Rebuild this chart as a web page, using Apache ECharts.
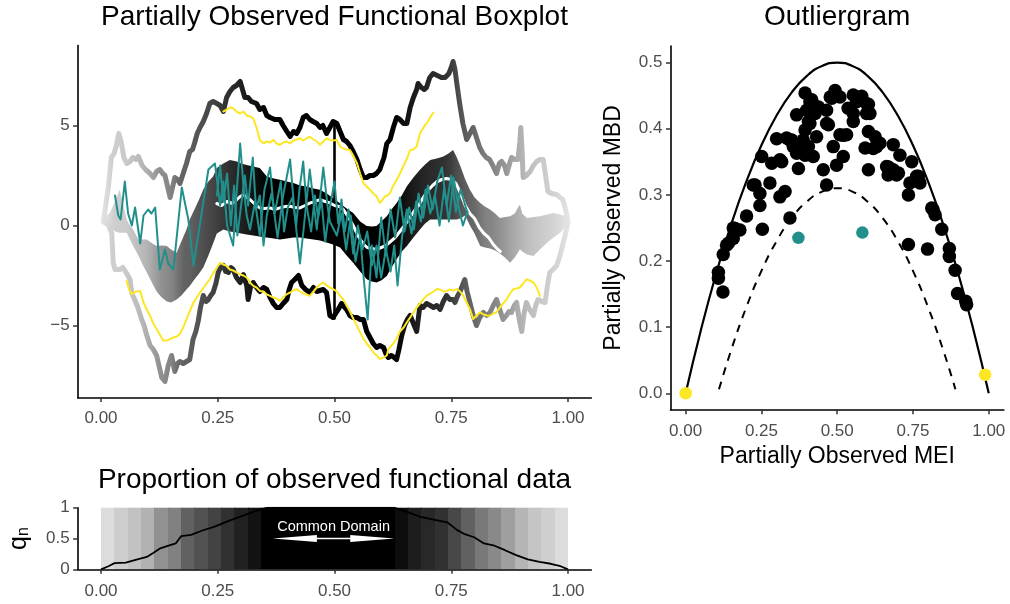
<!DOCTYPE html>
<html>
<head>
<meta charset="utf-8">
<title>Partially Observed Functional Boxplot</title>
<script src="https://cdn.jsdelivr.net/npm/echarts@6/dist/echarts.min.js"></script>
<style>
  html, body { margin: 0; padding: 0; background: #fff; }
  #chart { width: 1010px; height: 604px; }
</style>
</head>
<body>
<div id="chart"></div>
<script>
// ---------- tick values / labels ----------
const xTickValues = [0, 0.25, 0.5, 0.75, 1];
const xTickLabels = ['0.00', '0.25', '0.50', '0.75', '1.00'];
const boxYTicks = [-5, 0, 5];
const boxYLabels = ['\u22125', '0', '5'];
const propYTicks = [0, 0.5, 1];
const propYLabels = ['0', '0.5', '1'];
const outYTicks = [0, 0.1, 0.2, 0.3, 0.4, 0.5];
const outYLabels = ['0.0', '0.1', '0.2', '0.3', '0.4', '0.5'];

// ---------- proportion of observed curves q_n(t) ----------
const qnX = [0, 0.016, 0.029, 0.053, 0.078, 0.098, 0.111, 0.127, 0.143, 0.16, 0.172, 0.193, 0.217, 0.242, 0.275, 0.307, 0.34, 0.357,
             0.627, 0.652, 0.684, 0.717, 0.742, 0.762, 0.779, 0.799, 0.82, 0.84, 0.865, 0.889, 0.914, 0.939, 0.963, 0.984, 1.0];
const qnY = [0, 0.05, 0.10, 0.11, 0.16, 0.20, 0.26, 0.34, 0.38, 0.42, 0.54, 0.56, 0.63, 0.69, 0.79, 0.88, 0.97, 1.0,
             1.0, 0.94, 0.85, 0.80, 0.76, 0.64, 0.57, 0.52, 0.42, 0.39, 0.31, 0.23, 0.16, 0.12, 0.09, 0.05, 0];
const commonDomain = [0.368, 0.628];
const commonDomainText = 'Common Domain';

// ---------- functional boxplot: central 50% region ----------
const bandX = [0.005,0.012,0.019,0.03,0.04,0.048,0.055,0.062,0.069,0.08,0.09,0.098,0.11,0.119,0.13,0.141,0.15,0.162,0.172,0.183,
  0.19,0.2,0.21,0.219,0.23,0.24,0.248,0.262,0.276,0.291,0.30,0.312,0.326,0.34,0.355,0.37,0.383,0.398,0.412,0.426,
  0.44,0.455,0.469,0.483,0.497,0.512,0.526,0.54,0.555,0.569,0.58,0.59,0.60,0.612,0.622,0.633,0.644,0.655,0.669,0.683,
  0.694,0.705,0.719,0.733,0.744,0.754,0.762,0.769,0.78,0.79,0.80,0.812,0.822,0.833,0.844,0.854,0.865,0.876,0.886,0.893,
  0.897,0.902,0.912,0.926,0.94,0.955,0.969,0.983,0.997];
const bandHi = [0.2,0.5,0.64,1.2,1.8,1.0,0.3,0.0,-0.2,-0.7,-0.7,-0.7,-0.9,-1.03,-1.0,-1.03,-1.2,-1.36,-0.8,-0.2,
  0.3,0.8,1.3,1.8,2.2,2.45,2.87,3.1,3.28,3.2,3.1,3.03,2.95,2.87,2.45,2.35,2.29,2.2,2.12,2.0,
  1.95,1.85,1.79,1.6,1.38,1.1,0.85,0.63,0.2,-0.03,-0.05,-0.03,0.2,0.46,0.8,1.13,1.5,1.96,2.4,2.79,
  3.05,3.28,3.35,3.45,3.6,3.78,3.4,3.0,2.3,1.79,1.4,1.13,0.95,0.8,0.6,0.38,0.42,0.46,0.6,0.9,
  1.04,0.6,0.38,0.42,0.46,0.55,0.63,0.55,0.46];
const bandLo = [0.2,0.0,-0.1,-0.3,-0.36,-0.36,-0.36,-0.7,-1.03,-1.5,-2.0,-2.35,-2.9,-3.3,-3.6,-3.8,-3.85,-3.7,-3.5,-3.2,
  -3.02,-2.7,-2.4,-2.1,-1.5,-0.9,-0.4,-0.2,-0.3,-0.35,-0.4,-0.45,-0.5,-0.55,-0.6,-0.65,-0.7,-0.65,-0.6,-0.6,
  -0.65,-0.7,-0.75,-0.85,-0.95,-1.1,-1.5,-1.86,-2.3,-2.69,-2.8,-2.85,-2.75,-2.52,-2.1,-1.69,-1.3,-1.03,-0.6,-0.2,
  0.1,0.3,0.3,0.3,0.3,0.3,0.3,0.35,0.5,0.0,-0.4,-1.03,-1.1,-1.15,-1.25,-1.4,-1.6,-1.86,-1.6,-1.35,
  -1.19,-1.3,-1.45,-1.53,-1.2,-0.86,-0.6,-0.36,-0.03];

// ---------- fences ----------
const fenceUpper = [[0.005,0.2],[0.016,2.0],[0.022,3.4],[0.028,3.6],[0.033,4.0],[0.038,4.6],[0.043,4.2],[0.049,3.4],[0.055,3.1],[0.062,3.2],
  [0.068,3.4],[0.075,3.3],[0.08,3.45],[0.088,3.0],[0.095,2.8],[0.105,2.6],[0.112,2.4],[0.119,2.7],[0.126,2.8],[0.132,2.6],
  [0.137,2.5],[0.142,2.0],[0.148,1.4],[0.153,1.9],[0.158,2.4],[0.164,2.3],[0.169,2.1],[0.176,2.6],[0.183,3.1],[0.19,3.7],
  [0.196,3.8],[0.2,4.1],[0.206,4.6],[0.212,4.9],[0.219,5.2],[0.226,5.6],[0.233,6.1],[0.24,6.2],[0.248,6.1],[0.255,6.0],
  [0.262,5.7],[0.269,6.4],[0.276,6.7],[0.283,6.9],[0.29,7.0],[0.298,7.2],[0.303,6.8],[0.308,6.4],[0.315,6.4],[0.322,6.2],
  [0.333,6.1],[0.34,5.8],[0.348,5.9],[0.355,5.5],[0.362,5.4],[0.372,5.3],[0.383,5.3],[0.39,5.0],[0.398,4.7],[0.405,4.45],
  [0.412,4.7],[0.419,4.6],[0.426,4.9],[0.433,5.4],[0.44,5.5],[0.447,5.3],[0.454,5.2],[0.462,5.1],[0.469,4.9],[0.475,5.0],
  [0.483,4.6],[0.49,4.9],[0.497,5.2],[0.505,5.1],[0.512,4.7],[0.519,4.3],[0.526,4.2],[0.533,4.0],[0.54,3.7],[0.548,3.3],
  [0.555,2.8],[0.562,2.4],[0.569,2.4],[0.576,2.5],[0.583,2.5],[0.59,2.6],[0.597,2.8],[0.601,2.7],[0.606,3.4],[0.612,4.1],
  [0.619,4.3],[0.626,4.9],[0.633,5.4],[0.64,5.3],[0.648,5.1],[0.655,5.1],[0.662,5.9],[0.669,6.4],[0.676,6.8],[0.679,7.1],
  [0.686,6.9],[0.692,6.8],[0.697,6.9],[0.704,7.4],[0.711,7.6],[0.72,7.5],[0.729,7.4],[0.737,7.4],[0.745,7.6],[0.75,7.9],
  [0.754,8.2],[0.758,7.8],[0.762,7.1],[0.768,6.1],[0.775,5.1],[0.783,4.3],[0.79,4.6],[0.797,4.9],[0.804,4.4],[0.811,3.9],
  [0.818,3.6],[0.825,3.4],[0.832,3.3],[0.839,3.0],[0.847,2.6],[0.853,3.1],[0.858,3.2],[0.864,3.0],[0.869,2.6],[0.875,3.1],
  [0.879,3.4],[0.886,3.3],[0.893,3.3],[0.897,4.2],[0.899,4.9],[0.902,3.6],[0.904,2.4],[0.911,2.5],[0.919,2.7],[0.926,3.0],
  [0.933,3.2],[0.94,3.3],[0.947,3.3],[0.952,2.5],[0.957,1.7],[0.965,1.6],[0.976,1.55],[0.983,1.4],[0.989,1.3],[0.994,0.9],
  [0.997,0.6],[1.0,0.2]];
const fenceLower = [[0.005,0.2],[0.016,0.0],[0.023,-0.4],[0.026,-1.85],[0.03,-2.2],[0.034,-2.3],[0.04,-2.2],[0.047,-2.1],[0.055,-2.4],[0.062,-2.7],
  [0.066,-3.4],[0.072,-3.7],[0.079,-4.1],[0.087,-4.7],[0.092,-5.0],[0.098,-5.5],[0.105,-6.0],[0.112,-6.2],[0.119,-6.5],[0.125,-7.1],
  [0.13,-7.6],[0.137,-7.8],[0.144,-7.0],[0.151,-6.5],[0.158,-7.3],[0.164,-6.9],[0.169,-6.8],[0.176,-6.9],[0.183,-6.8],[0.19,-6.7],
  [0.194,-6.6],[0.197,-5.7],[0.203,-5.3],[0.208,-4.8],[0.213,-4.1],[0.219,-3.5],[0.225,-3.8],[0.23,-3.7],[0.235,-3.5],[0.24,-3.35],
  [0.246,-2.9],[0.251,-2.35],[0.256,-2.1],[0.262,-2.0],[0.267,-2.3],[0.273,-2.35],[0.278,-2.1],[0.283,-2.2],[0.29,-2.6],[0.298,-2.85],
  [0.305,-2.45],[0.312,-3.0],[0.315,-3.7],[0.32,-3.1],[0.326,-2.85],[0.333,-3.1],[0.34,-3.3],[0.348,-3.1],[0.355,-3.2],[0.362,-3.6],
  [0.369,-3.9],[0.376,-4.1],[0.383,-4.1],[0.39,-3.9],[0.398,-3.7],[0.403,-3.2],[0.408,-2.85],[0.415,-2.7],[0.423,-2.5],[0.43,-3.0],
  [0.438,-3.2],[0.447,-3.35],[0.455,-3.1],[0.462,-3.3],[0.469,-3.25],[0.476,-3.2],[0.483,-3.35],[0.487,-4.0],[0.49,-4.5],[0.497,-4.6],
  [0.501,-4.6],[0.508,-4.2],[0.515,-3.9],[0.519,-3.85],[0.526,-4.2],[0.533,-4.5],[0.54,-4.6],[0.548,-4.6],[0.555,-4.7],[0.562,-4.7],
  [0.569,-5.3],[0.576,-5.6],[0.583,-5.9],[0.59,-6.1],[0.597,-6.0],[0.605,-6.1],[0.61,-6.4],[0.615,-6.6],[0.622,-6.5],[0.628,-6.6],
  [0.633,-6.7],[0.638,-6.2],[0.644,-5.5],[0.65,-5.0],[0.656,-4.7],[0.662,-4.5],[0.669,-4.9],[0.676,-5.3],[0.683,-4.0],[0.69,-4.1],
  [0.697,-3.9],[0.705,-4.0],[0.712,-4.1],[0.719,-4.0],[0.726,-4.2],[0.733,-3.8],[0.74,-3.5],[0.747,-3.7],[0.754,-3.7],[0.758,-3.85],
  [0.764,-3.5],[0.769,-3.3],[0.774,-3.0],[0.779,-2.7],[0.784,-3.3],[0.79,-3.85],[0.797,-4.5],[0.804,-5.0],[0.811,-4.6],[0.819,-4.35],
  [0.826,-4.5],[0.833,-4.35],[0.84,-4.0],[0.847,-3.7],[0.854,-4.2],[0.861,-4.7],[0.868,-4.5],[0.874,-4.3],[0.879,-4.35],[0.885,-4.0],
  [0.89,-3.85],[0.895,-4.6],[0.901,-5.3],[0.906,-4.4],[0.911,-3.85],[0.918,-4.2],[0.926,-4.5],[0.931,-4.0],[0.936,-3.7],[0.944,-3.8],
  [0.951,-3.85],[0.956,-3.0],[0.961,-2.35],[0.968,-2.2],[0.976,-2.0],[0.983,-1.5],[0.99,-0.86],[0.994,-0.5],[0.997,-0.2],[1.0,0.2]];
const centreSegment = [[0.5, 5.15], [0.5, -4.65]];

// ---------- median curve ----------
const medianCurve = [[0.248,1.1],[0.258,1.0],[0.27,1.2],[0.28,1.1],[0.291,1.3],[0.298,1.45],[0.305,1.54],[0.312,1.4],[0.319,1.3],[0.33,1.05],
  [0.34,0.88],[0.35,0.85],[0.362,0.88],[0.372,0.8],[0.383,0.88],[0.395,0.95],[0.405,0.96],[0.415,0.9],[0.426,0.88],[0.437,1.0],
  [0.448,1.13],[0.458,1.2],[0.469,1.29],[0.48,1.2],[0.49,1.13],[0.50,1.0],[0.51,0.95],[0.519,0.8],[0.53,0.4],[0.54,0.0],
  [0.548,-0.4],[0.555,-0.7],[0.563,-0.95],[0.57,-1.1],[0.58,-1.15],[0.59,-1.2],[0.60,-1.1],[0.61,-1.0],[0.62,-0.8],[0.63,-0.6],
  [0.64,-0.3],[0.65,0.0],[0.66,0.35],[0.67,0.7],[0.68,1.0],[0.69,1.4],[0.70,1.75],[0.71,2.0],[0.72,2.2],[0.73,2.3],
  [0.74,2.35],[0.75,2.3],[0.76,2.1],[0.77,1.6],[0.78,1.0],[0.79,0.6],[0.80,0.35],[0.81,-0.1],[0.82,-0.4],[0.83,-0.6],
  [0.84,-0.95],[0.85,-1.2],[0.855,-1.3]];

// ---------- magnitude outliers (yellow) ----------
const outlierUpper = [[0.262,5.7],[0.27,5.8],[0.276,5.9],[0.283,5.86],[0.29,5.7],[0.298,5.6],[0.305,5.7],[0.312,5.5],[0.319,5.45],[0.326,5.36],
  [0.333,4.9],[0.34,4.28],[0.348,4.11],[0.355,4.2],[0.362,4.15],[0.369,4.28],[0.376,4.1],[0.383,4.03],[0.39,4.15],[0.398,4.2],
  [0.405,4.1],[0.412,4.25],[0.419,4.3],[0.426,4.36],[0.433,4.25],[0.44,4.35],[0.447,4.44],[0.455,4.3],[0.462,4.2],[0.469,4.03],
  [0.476,4.2],[0.483,4.36],[0.49,4.28],[0.497,4.25],[0.505,4.28],[0.512,3.95],[0.519,3.85],[0.526,3.8],[0.533,3.78],[0.54,3.5],
  [0.548,3.12],[0.555,2.6],[0.562,2.12],[0.569,1.95],[0.576,1.79],[0.583,1.6],[0.59,1.46],[0.597,1.13],[0.602,1.25],[0.608,1.46],
  [0.613,1.5],[0.619,1.63],[0.626,2.0],[0.633,2.29],[0.638,2.5],[0.644,2.79],[0.65,3.1],[0.656,3.4],[0.662,3.78],[0.669,3.8],
  [0.676,3.95],[0.683,4.61],[0.688,4.8],[0.694,5.02],[0.70,5.2],[0.708,5.52],[0.712,5.65]];
const outlierLower = [[0.055,-2.77],[0.06,-3.2],[0.066,-3.43],[0.075,-3.3],[0.084,-3.27],[0.091,-3.85],[0.098,-4.2],[0.105,-4.51],[0.112,-4.9],[0.119,-5.17],
  [0.127,-5.5],[0.133,-5.75],[0.137,-5.84],[0.142,-5.75],[0.148,-5.67],[0.155,-5.6],[0.162,-5.55],[0.169,-5.42],[0.176,-5.1],[0.183,-4.68],
  [0.19,-4.3],[0.198,-3.85],[0.205,-3.6],[0.212,-3.35],[0.22,-3.1],[0.226,-2.9],[0.233,-2.69],[0.24,-2.4],[0.248,-2.1],[0.255,-1.86],
  [0.262,-1.95],[0.269,-2.02],[0.276,-2.2],[0.283,-2.25],[0.291,-2.35],[0.298,-2.45],[0.305,-2.5],[0.312,-2.6],[0.319,-2.85],[0.326,-3.02],
  [0.333,-3.1],[0.34,-3.27],[0.348,-3.3],[0.355,-3.45],[0.362,-3.52],[0.369,-3.6],[0.376,-3.65],[0.383,-3.77],[0.39,-3.6],[0.398,-3.43],
  [0.405,-3.35],[0.412,-3.25],[0.419,-3.18],[0.426,-3.3],[0.433,-3.4],[0.44,-3.45],[0.447,-3.52],[0.455,-3.3],[0.462,-3.1],[0.469,-2.95],
  [0.476,-2.85],[0.483,-3.0],[0.49,-3.1],[0.497,-3.18],[0.505,-3.3],[0.512,-3.52],[0.519,-3.7],[0.526,-4.01],[0.533,-4.3],[0.54,-4.65],
  [0.548,-5.01],[0.555,-5.35],[0.562,-5.67],[0.569,-5.9],[0.576,-6.1],[0.583,-6.34],[0.59,-6.5],[0.597,-6.67],[0.605,-6.6],[0.612,-6.5],
  [0.615,-6.2],[0.619,-6.08],[0.626,-5.9],[0.633,-5.67],[0.64,-5.3],[0.648,-5.1],[0.655,-4.84],[0.662,-4.6],[0.669,-4.35],[0.676,-4.1],
  [0.683,-3.9],[0.69,-3.7],[0.697,-3.52],[0.705,-3.4],[0.712,-3.3],[0.719,-3.18],[0.726,-3.2],[0.733,-3.3],[0.74,-3.27],[0.747,-3.2],
  [0.754,-3.25],[0.762,-3.18],[0.769,-3.3],[0.776,-3.52],[0.783,-3.85],[0.79,-4.18],[0.797,-4.68],[0.804,-4.5],[0.812,-4.34],[0.819,-4.45],
  [0.826,-4.5],[0.833,-4.51],[0.84,-4.4],[0.847,-4.34],[0.854,-4.1],[0.861,-3.9],[0.869,-3.68],[0.876,-3.4],[0.883,-3.18],[0.89,-3.15],
  [0.897,-3.1],[0.904,-2.9],[0.911,-2.69],[0.918,-2.75],[0.926,-2.85],[0.933,-3.1],[0.94,-3.52]];

// ---------- shape outliers (teal) ----------
const shapeOutlierA = [[0.030,1.5],[0.037,0.5],[0.042,0.3],[0.051,2.2],[0.058,0.6],[0.066,0.0],[0.073,0.9],[0.084,-0.9],[0.091,0.5],[0.101,0.8],
  [0.108,0.6],[0.116,0.9],[0.126,-2.2],[0.137,-1.2],[0.144,-1.9],[0.155,-2.2],[0.173,1.9],[0.187,0.3],[0.198,-2.0],[0.212,0.1],
  [0.23,2.8],[0.244,3.1],[0.255,1.0],[0.262,2.2],[0.270,0.0],[0.283,-1.0],[0.29,1.5],[0.298,4.1],[0.305,2.0],[0.312,0.5],
  [0.319,-0.2],[0.33,1.2],[0.34,-0.5],[0.35,1.8],[0.362,2.9],[0.37,0.8],[0.378,-0.6],[0.39,1.5],[0.405,3.3],[0.415,0.5],
  [0.426,-1.9],[0.436,0.3],[0.447,2.8],[0.455,1.2],[0.462,-0.2],[0.476,2.9],[0.485,1.0],[0.49,0.2],[0.505,-0.5],[0.515,0.6],
  [0.525,-1.2],[0.535,0.5],[0.545,-1.8],[0.555,-0.5],[0.562,-2.5],[0.571,-4.7],[0.58,-1.0],[0.59,-2.6],[0.60,0.4],[0.61,-1.5],
  [0.62,0.8],[0.63,-0.6],[0.64,1.4],[0.65,-0.3],[0.66,0.9],[0.67,-0.2],[0.68,1.6],[0.69,0.4],[0.70,2.0],[0.71,0.8],
  [0.72,2.2],[0.73,2.9],[0.74,1.0],[0.75,2.5],[0.76,0.7],[0.77,1.8],[0.785,0.6]];
const shapeOutlierB = [[0.248,1.5],[0.255,3.0],[0.262,1.2],[0.27,2.6],[0.278,0.0],[0.285,2.0],[0.292,-0.5],[0.3,1.0],[0.308,2.5],[0.315,1.0],
  [0.325,3.4],[0.332,0.8],[0.34,1.5],[0.348,-1.0],[0.355,0.5],[0.365,1.6],[0.372,0.6],[0.385,2.2],[0.392,-0.3],[0.40,0.9],
  [0.41,1.4],[0.418,0.0],[0.425,1.8],[0.433,3.2],[0.44,1.0],[0.45,-0.3],[0.458,1.5],[0.465,0.4],[0.472,1.3],[0.48,-0.8],
  [0.49,0.9],[0.50,2.2],[0.508,0.1],[0.515,1.3],[0.522,-0.3],[0.53,0.8],[0.54,-1.4],[0.55,0.0],[0.56,-1.2],[0.57,-0.3],
  [0.58,-2.0],[0.59,-1.0],[0.60,-2.6],[0.61,-1.2],[0.62,-2.3],[0.628,-1.0],[0.635,-3.0],[0.645,-0.5],[0.655,0.8],[0.665,-0.4],
  [0.675,1.2],[0.685,0.2],[0.695,1.8],[0.705,0.6],[0.715,1.5],[0.725,0.0],[0.735,1.9],[0.745,0.2],[0.755,2.4],[0.765,1.0],
  [0.775,0.0],[0.785,0.7]];

// ---------- outliergram ----------
const boundMEI = [0,0.05,0.1,0.15,0.2,0.25,0.3,0.35,0.4,0.45,0.5,0.55,0.6,0.65,0.7,0.75,0.8,0.85,0.9,0.95,1.0];
const boundMBD = [0,0.095,0.18,0.255,0.32,0.375,0.42,0.455,0.48,0.495,0.5,0.495,0.48,0.455,0.42,0.375,0.32,0.255,0.18,0.095,0];
const thresholdMEI = [0.11,0.15,0.2,0.25,0.3,0.35,0.4,0.45,0.5,0.55,0.6,0.65,0.7,0.75,0.8,0.85,0.89];
const thresholdMBD = [0.006,0.065,0.13,0.185,0.23,0.265,0.29,0.305,0.31,0.305,0.29,0.265,0.23,0.185,0.13,0.065,0.006];
const curvePoints = [[0.394,0.454],[0.493,0.458],[0.477,0.448],[0.509,0.448],[0.41,0.441],[0.482,0.446],[0.553,0.451],[0.581,0.449],[0.564,0.441],[0.597,0.438],
  [0.603,0.437],[0.416,0.444],[0.432,0.431],[0.465,0.428],[0.438,0.433],[0.366,0.421],[0.399,0.428],[0.427,0.423],[0.536,0.431],[0.553,0.423],
  [0.608,0.423],[0.597,0.423],[0.405,0.411],[0.465,0.408],[0.553,0.411],[0.41,0.408],[0.471,0.406],[0.394,0.398],[0.432,0.388],[0.52,0.39],
  [0.509,0.391],[0.531,0.391],[0.603,0.396],[0.625,0.388],[0.30,0.385],[0.333,0.386],[0.344,0.383],[0.35,0.383],[0.388,0.383],[0.377,0.376],
  [0.405,0.373],[0.487,0.373],[0.592,0.371],[0.63,0.373],[0.641,0.378],[0.685,0.376],[0.619,0.370],[0.355,0.373],[0.251,0.358],[0.311,0.353],
  [0.284,0.348],[0.317,0.350],[0.366,0.363],[0.394,0.360],[0.421,0.358],[0.52,0.358],[0.707,0.360],[0.372,0.340],[0.454,0.338],[0.498,0.345],
  [0.603,0.338],[0.669,0.342],[0.663,0.343],[0.685,0.338],[0.746,0.350],[0.702,0.333],[0.696,0.330],[0.668,0.330],[0.768,0.328],[0.762,0.328],
  [0.74,0.318],[0.773,0.318],[0.223,0.315],[0.229,0.315],[0.278,0.318],[0.465,0.315],[0.245,0.302],[0.328,0.305],[0.311,0.297],[0.735,0.300],
  [0.245,0.284],[0.812,0.280],[0.817,0.277],[0.823,0.270],[0.201,0.268],[0.344,0.265],[0.163,0.249],[0.179,0.247],[0.157,0.25],[0.253,0.248],
  [0.845,0.248],[0.157,0.234],[0.141,0.227],[0.135,0.224],[0.735,0.225],[0.798,0.218],[0.870,0.219],[0.124,0.21],[0.870,0.207],[0.108,0.183],
  [0.108,0.174],[0.889,0.186],[0.123,0.153],[0.897,0.151],[0.924,0.139],[0.927,0.134]];
const shapeOutlierPoints = [[0.372,0.235],[0.583,0.243]];
const magnitudeOutlierPoints = [[0.0,0.0],[0.988,0.028]];

// ---------- styling ----------
const FONT = '"Liberation Sans", Arial, Helvetica, sans-serif';
const TEAL = '#21908C';
const YELLOW = '#FDE725';

function qnAt(x) {
  if (x <= qnX[0]) return qnY[0];
  for (let i = 1; i < qnX.length; i++) {
    if (x <= qnX[i]) {
      const t = (x - qnX[i - 1]) / (qnX[i] - qnX[i - 1]);
      return qnY[i - 1] + t * (qnY[i] - qnY[i - 1]);
    }
  }
  return qnY[qnY.length - 1];
}
// grey ramp (light grey -> black) interpolated in lightness
function greyFor(q) {
  const L = 92 * (1 - Math.max(0, Math.min(1, q)));
  const fy = (L + 16) / 116;
  const Y = L > 8 ? fy * fy * fy : L / 903.3;
  const c = Y <= 0.0031308 ? 12.92 * Y : 1.055 * Math.pow(Y, 1 / 2.4) - 0.055;
  const v = Math.round(255 * Math.max(0, Math.min(1, c)));
  return 'rgb(' + v + ',' + v + ',' + v + ')';
}
// horizontal gradient following q_n over the x-extent of a curve
function greyGradient(xs) {
  const x0 = Math.min.apply(null, xs), x1 = Math.max.apply(null, xs);
  const stops = [];
  const n = 80;
  for (let i = 0; i <= n; i++) {
    const x = x0 + (x1 - x0) * i / n;
    stops.push({ offset: i / n, color: greyFor(qnAt(x)) });
  }
  return { type: 'linear', x: 0, y: 0, x2: 1, y2: 0, colorStops: stops };
}

// strip of grey cells underneath q_n
const stripCount = 35;
const stripCells = [];
for (let i = 0; i < stripCount; i++) {
  const a = i / stripCount, b = (i + 1) / stripCount;
  stripCells.push([a, b, qnAt((a + b) / 2)]);
}

function labelFor(ticks, labels) {
  return function (v) {
    let k = 0;
    for (let i = 0; i < ticks.length; i++) if (Math.abs(ticks[i] - v) < Math.abs(ticks[k] - v)) k = i;
    return labels[k];
  };
}
function valueAxis(gridIndex, min, max, ticks, labels, extra) {
  const ax = {
    type: 'value', gridIndex: gridIndex, min: min, max: max, z: 5,
    splitLine: { show: false },
    axisLine: { show: true, onZero: false, lineStyle: { color: '#000', width: 1.6 } },
    axisTick: { show: true, length: 4.5, lineStyle: { color: '#333', width: 1.5 }, customValues: ticks },
    axisLabel: { show: true, color: '#4d4d4d', fontSize: 17, fontFamily: FONT, margin: 8,
                 customValues: ticks, formatter: labelFor(ticks, labels) }
  };
  if (extra) {
    for (const k in extra) {
      if (ax[k] && typeof ax[k] === 'object' && !Array.isArray(extra[k])) ax[k] = Object.assign({}, ax[k], extra[k]);
      else ax[k] = extra[k];
    }
  }
  return ax;
}
function curve(data, color, width, z) {
  return {
    type: 'line', xAxisIndex: 0, yAxisIndex: 0, data: data, symbol: 'none', silent: true, z: z || 2,
    lineStyle: { color: color, width: width, join: 'round', cap: 'round' }
  };
}

const chart = echarts.init(document.getElementById('chart'), null, { renderer: 'canvas' });

const gridBase = { containLabel: false, outerBoundsMode: 'none' };
const option = {
  animation: false,
  backgroundColor: '#ffffff',
  textStyle: { fontFamily: FONT },
  grid: [
    Object.assign({ left: 77.65, top: 45.5, width: 513.7, height: 352 }, gridBase),
    Object.assign({ left: 77.65, top: 507.7, width: 513.7, height: 61.6 }, gridBase),
    Object.assign({ left: 670.5, top: 46.1, width: 333.4, height: 363.7 }, gridBase)
  ],
  xAxis: [
    valueAxis(0, -0.05, 1.05, xTickValues, xTickLabels, { axisLabel: { margin: 12 } }),
    valueAxis(1, -0.05, 1.05, xTickValues, xTickLabels, { axisLabel: { margin: 14 } }),
    valueAxis(2, -0.05, 1.05, xTickValues, xTickLabels, {
      axisLabel: { margin: 13 },
      name: 'Partially Observed MEI', nameLocation: 'middle', nameGap: 34,
      nameTextStyle: { fontSize: 23, color: '#000', fontFamily: FONT }
    })
  ],
  yAxis: [
    valueAxis(0, -8.6, 9.0, boxYTicks, boxYLabels),
    valueAxis(1, 0, 1, propYTicks, propYLabels, {
      name: '{q|q}{n|n}', nameLocation: 'middle', nameGap: 46,
      nameTextStyle: {
        rich: {
          q: { fontSize: 25, fontFamily: FONT, color: '#000', verticalAlign: 'top', lineHeight: 25 },
          n: { fontSize: 16, fontFamily: FONT, color: '#000', verticalAlign: 'bottom', lineHeight: 16, padding: [13, 0, 0, 0] }
        }
      }
    }),
    valueAxis(2, -0.025, 0.525, outYTicks, outYLabels, {
      name: 'Partially Observed MBD', nameLocation: 'middle', nameGap: 45,
      nameTextStyle: { fontSize: 23, color: '#000', fontFamily: FONT }
    })
  ],
  graphic: [
    { type: 'text', x: 334.5, y: 17, silent: true,
      style: { text: 'Partially Observed Functional Boxplot', align: 'center', verticalAlign: 'middle',
               textAlign: 'center', textVerticalAlign: 'middle', font: '28px ' + FONT, fill: '#000' } },
    { type: 'text', x: 334.5, y: 480, silent: true,
      style: { text: 'Proportion of observed functional data', align: 'center', verticalAlign: 'middle',
               textAlign: 'center', textVerticalAlign: 'middle', font: '28px ' + FONT, fill: '#000' } },
    { type: 'text', x: 837.2, y: 17, silent: true,
      style: { text: 'Outliergram', align: 'center', verticalAlign: 'middle',
               textAlign: 'center', textVerticalAlign: 'middle', font: '28px ' + FONT, fill: '#000' } }
  ],
  series: [
    // central region as one polygon between its lower and upper edges
    {
      type: 'custom', xAxisIndex: 0, yAxisIndex: 0, silent: true, z: 1,
      data: bandX.map((x, i) => [x, bandLo[i], bandHi[i]]), encode: { x: 0, y: [1, 2] },
      renderItem: function (params, api) {
        if (params.dataIndex !== 0) return null;
        const pts = [];
        for (let i = 0; i < bandX.length; i++) pts.push(api.coord([bandX[i], bandHi[i]]));
        for (let i = bandX.length - 1; i >= 0; i--) pts.push(api.coord([bandX[i], bandLo[i]]));
        return { type: 'polygon', shape: { points: pts }, style: { fill: greyGradient(bandX) } };
      }
    },
    curve(fenceUpper, greyGradient(fenceUpper.map(p => p[0])), 5, 2),
    curve(fenceLower, greyGradient(fenceLower.map(p => p[0])), 5, 2),
    curve(centreSegment, '#000', 2.6, 2),
    curve(medianCurve, '#ffffff', 3, 3),
    curve(outlierUpper, YELLOW, 2, 4),
    curve(outlierLower, YELLOW, 2, 4),
    curve(shapeOutlierA, TEAL, 2, 4),
    curve(shapeOutlierB, TEAL, 2, 4),

    // proportion strip (cells snapped to whole pixels so neighbours join without seams)
    {
      type: 'custom', xAxisIndex: 1, yAxisIndex: 1, silent: true, z: 1,
      data: stripCells, encode: { x: [0, 1], y: 2 },
      renderItem: function (params, api) {
        const a = api.coord([api.value(0), 1]);
        const b = api.coord([api.value(1), 0]);
        const x0 = Math.round(a[0]), x1 = Math.round(b[0]);
        return { type: 'rect', shape: { x: x0, y: a[1], width: x1 - x0 + (params.dataIndex < stripCount - 1 ? 1 : 0), height: b[1] - a[1] },
                 style: { fill: greyFor(api.value(2)) } };
      }
    },
    {
      type: 'line', xAxisIndex: 1, yAxisIndex: 1, symbol: 'none', silent: true, z: 3,
      data: qnX.map((x, i) => [x, qnY[i]]), lineStyle: { color: '#000', width: 1.8 }
    },
    {
      type: 'custom', xAxisIndex: 1, yAxisIndex: 1, silent: true, z: 4,
      data: [[commonDomain[0], commonDomain[1], 0.5]], encode: { x: [0, 1], y: 2 },
      renderItem: function (params, api) {
        const a = api.coord([api.value(0), api.value(2)]);
        const b = api.coord([api.value(1), api.value(2)]);
        const L = 44, H = 3.6;
        return {
          type: 'group', children: [
            { type: 'line', shape: { x1: a[0] + L - 2, y1: a[1], x2: b[0] - L + 2, y2: b[1] }, style: { stroke: '#fff', lineWidth: 1.6 } },
            { type: 'polygon', shape: { points: [[a[0], a[1]], [a[0] + L, a[1] - H], [a[0] + L, a[1] + H]] }, style: { fill: '#fff' } },
            { type: 'polygon', shape: { points: [[b[0], b[1]], [b[0] - L, b[1] - H], [b[0] - L, b[1] + H]] }, style: { fill: '#fff' } },
            { type: 'text', style: { text: commonDomainText, x: (a[0] + b[0]) / 2, y: a[1] - 12,
                                     align: 'center', verticalAlign: 'middle', textAlign: 'center', textVerticalAlign: 'middle',
                                     fill: '#fff', font: '14.5px ' + FONT } }
          ]
        };
      }
    },

    // outliergram
    {
      type: 'line', xAxisIndex: 2, yAxisIndex: 2, symbol: 'none', silent: true, smooth: true, z: 2,
      data: boundMEI.map((x, i) => [x, boundMBD[i]]), lineStyle: { color: '#000', width: 2.2 }
    },
    {
      type: 'line', xAxisIndex: 2, yAxisIndex: 2, symbol: 'none', silent: true, smooth: true, z: 2,
      data: thresholdMEI.map((x, i) => [x, thresholdMBD[i]]), lineStyle: { color: '#000', width: 2, type: [8, 7] }
    },
    {
      type: 'scatter', xAxisIndex: 2, yAxisIndex: 2, silent: true, z: 3, symbolSize: 13.5,
      data: curvePoints, itemStyle: { color: '#000', opacity: 1 }
    },
    {
      type: 'scatter', xAxisIndex: 2, yAxisIndex: 2, silent: true, z: 4, symbolSize: 12.5,
      data: shapeOutlierPoints, itemStyle: { color: TEAL, opacity: 1 }
    },
    {
      type: 'scatter', xAxisIndex: 2, yAxisIndex: 2, silent: true, z: 4, symbolSize: 12.5,
      data: magnitudeOutlierPoints, itemStyle: { color: YELLOW, opacity: 1 }
    }
  ]
};

chart.setOption(option);
</script>
</body>
</html>
